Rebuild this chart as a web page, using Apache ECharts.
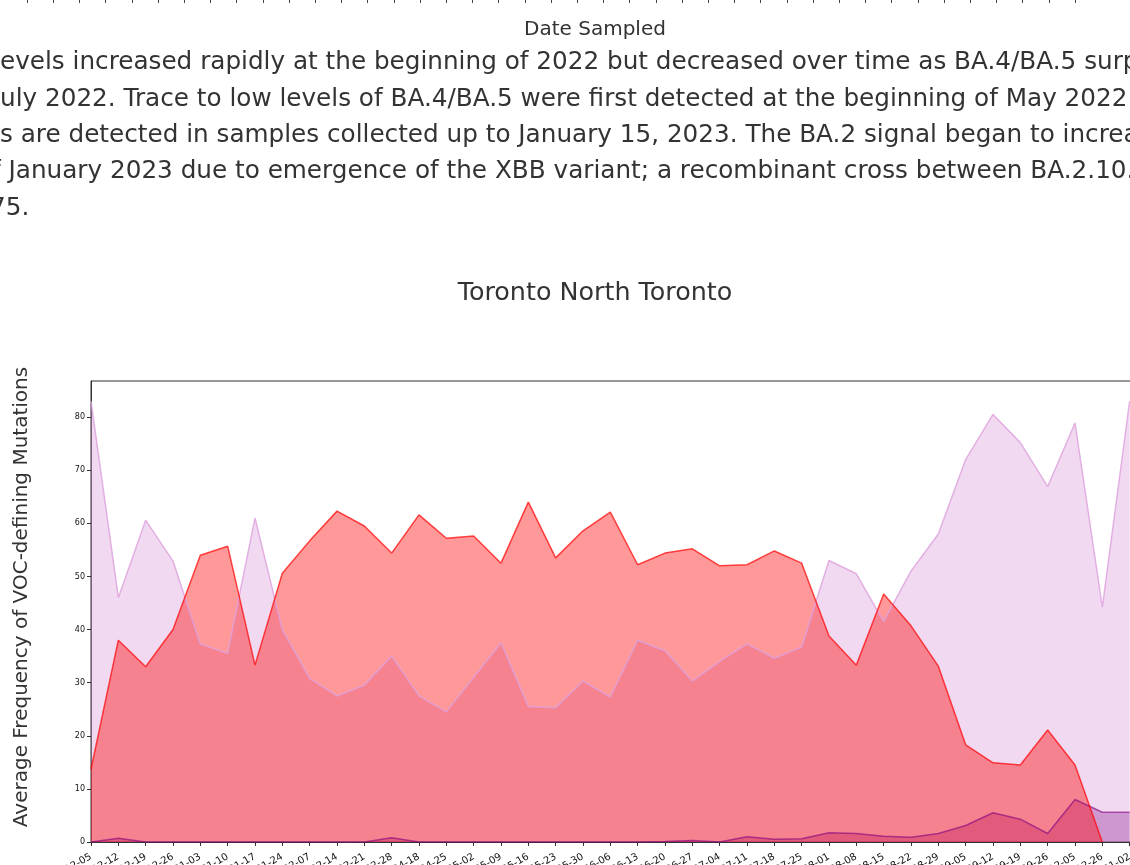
<!DOCTYPE html>
<html>
<head>
<meta charset="utf-8">
<script src="https://cdn.jsdelivr.net/npm/echarts@6/dist/echarts.min.js"></script>
<style>
html,body{margin:0;padding:0;background:#fff;}
#chart{width:1130px;height:865px;}
</style>
</head>
<body>
<div id="chart"></div>
<script>
// ---- data ----
const dates = [
  '2021-12-05','2021-12-12','2021-12-19','2021-12-26',
  '2022-01-03','2022-01-10','2022-01-17','2022-01-24',
  '2022-02-07','2022-02-14','2022-02-21','2022-02-28',
  '2022-04-18','2022-04-25','2022-05-02','2022-05-09','2022-05-16','2022-05-23','2022-05-30',
  '2022-06-06','2022-06-13','2022-06-20','2022-06-27',
  '2022-07-04','2022-07-11','2022-07-18','2022-07-25',
  '2022-08-01','2022-08-08','2022-08-15','2022-08-22','2022-08-29',
  '2022-09-05','2022-09-12','2022-09-19','2022-09-26',
  '2022-12-05','2022-12-26','2023-01-02'
];
const plumValues = [
  83, 46, 60.6, 52.9, 37.3, 35.5, 61, 40, 30.8, 27.5, 29.5, 35,
  27.5, 24.5, 31, 37.5, 25.5, 25.3, 30.3, 27.3, 38, 36, 30.3, 34,
  37.3, 34.6, 36.7, 53, 50.5, 41.5, 51, 58, 72, 80.5, 75.2, 66.9,
  78.9, 44.2, 83
];
const purpleValues = [
  0, 0.7, 0, 0, 0, 0, 0, 0, 0, 0, 0, 0.8,
  0, 0, 0, 0, 0, 0, 0, 0, 0, 0.1, 0.3, 0,
  1.0, 0.5, 0.6, 1.75, 1.6, 1.1, 0.9, 1.6, 3.1, 5.5, 4.3, 1.6,
  8.0, 5.6, 5.6
];
const redValues = [
  13.7, 38, 33, 40, 54, 55.7, 33.3, 50.6, 56.7, 62.3, 59.5, 54.4,
  61.6, 57.2, 57.6, 52.5, 64, 53.5, 58.6, 62.1, 52.2, 54.4, 55.2, 52,
  52.2, 54.8, 52.5, 38.8, 33.3, 46.7, 40.7, 33.1, 18.3, 14.9, 14.5, 21.1,
  14.5, 0, null
];
const yTicks = [0, 10, 20, 30, 40, 50, 60, 70, 80];
const paragraphLines = [
  'evels increased rapidly at the beginning of 2022 but decreased over time as BA.4/BA.5 surpassed',
  'uly 2022. Trace to low levels of BA.4/BA.5 were first detected at the beginning of May 2022',
  's are detected in samples collected up to January 15, 2023. The BA.2 signal began to increase',
  'f January 2023 due to emergence of the XBB variant; a recombinant cross between BA.2.10.',
  '75.'
];
const chartTitle = 'Toronto North Toronto';
const prevAxisName = 'Date Sampled';
const yAxisName = 'Average Frequency of VOC-defining Mutations';
const prevAxisTickCount = 41;

// ---- build ----
const toPairs = arr => arr.map((v, i) => [i, v]);
const FONT = 'DejaVu Sans';
const TXT = '#333';
const paraOffsets = [0, 0, 0, -8, -10];

const paraGraphics = paragraphLines.map((t, k) => ({
  type: 'text',
  x: paraOffsets[k],
  y: 63 + 36.3 * k,
  silent: true,
  style: { text: t, font: '24.7px "DejaVu Sans"', fill: TXT, align: 'left', verticalAlign: 'middle' }
}));

const chart = echarts.init(document.getElementById('chart'), null, { renderer: 'canvas' });
chart.setOption({
  animation: false,
  backgroundColor: '#fff',
  textStyle: { fontFamily: FONT },
  grid: [
    { left: 91, top: 381, right: -27, bottom: 23, show: true, borderColor: '#333', borderWidth: 1,
      containLabel: false, outerBoundsMode: 'none' },
    { left: 27, top: -40, width: (prevAxisTickCount - 1) * 26.2, height: 39, show: false,
      containLabel: false, outerBoundsMode: 'none' }
  ],
  xAxis: [
    {
      type: 'value', gridIndex: 0, min: 0, max: dates.length, interval: 1,
      axisLine: { show: true, lineStyle: { color: '#333', width: 1 } },
      axisTick: { show: true, length: 4, lineStyle: { color: '#333' } },
      splitLine: { show: false },
      axisLabel: {
        rotate: 30, fontSize: 10, color: '#111', margin: 14, fontFamily: FONT,
        formatter: v => (Number.isInteger(v) && dates[v]) ? dates[v] : ''
      }
    },
    {
      type: 'value', gridIndex: 1, min: 0, max: prevAxisTickCount - 1, interval: 1,
      axisLine: { show: false },
      axisTick: { show: true, length: 4, lineStyle: { color: '#444' } },
      axisLabel: { show: false },
      splitLine: { show: false }
    }
  ],
  yAxis: [
    {
      type: 'value', gridIndex: 0, min: 0, max: 86.8, interval: 10,
      axisLine: { show: true, lineStyle: { color: '#333', width: 1 } },
      axisTick: { show: true, length: 4, lineStyle: { color: '#333' }, customValues: yTicks },
      axisLabel: { fontSize: 8, color: '#111', margin: 6, fontFamily: FONT, customValues: yTicks },
      splitLine: { show: false }
    },
    { type: 'value', gridIndex: 1, min: 0, max: 1, show: false }
  ],
  graphic: [
    ...paraGraphics,
    {
      type: 'text', x: 595, y: 30, silent: true,
      style: { text: prevAxisName, font: '20px "DejaVu Sans"', fill: TXT, align: 'center', verticalAlign: 'middle' }
    },
    {
      type: 'text', x: 595, y: 293, silent: true,
      style: { text: chartTitle, font: '25.4px "DejaVu Sans"', fill: TXT, align: 'center', verticalAlign: 'middle' }
    },
    {
      type: 'text', x: 22, y: 597, rotation: Math.PI / 2, silent: true,
      style: { text: yAxisName, font: '20px "DejaVu Sans"', fill: TXT, align: 'center', verticalAlign: 'middle' }
    }
  ],
  series: [
    {
      name: 'Omicron BA.1', type: 'line', xAxisIndex: 0, yAxisIndex: 0,
      data: toPairs(plumValues), showSymbol: false, symbol: 'none',
      lineStyle: { color: '#dda0dd', width: 1.5, opacity: 0.8 },
      areaStyle: { color: '#dda0dd', opacity: 0.4, origin: 'start' }
    },
    {
      name: 'Omicron BA.4/BA.5', type: 'line', xAxisIndex: 0, yAxisIndex: 0,
      data: toPairs(purpleValues), showSymbol: false, symbol: 'none',
      lineStyle: { color: '#800080', width: 1.5, opacity: 0.6 },
      areaStyle: { color: '#800080', opacity: 0.3, origin: 'start' }
    },
    {
      name: 'Omicron BA.2', type: 'line', xAxisIndex: 0, yAxisIndex: 0,
      data: toPairs(redValues), showSymbol: false, symbol: 'none', connectNulls: false,
      lineStyle: { color: '#ff0000', width: 1.5, opacity: 0.7 },
      areaStyle: { color: '#ff0000', opacity: 0.4, origin: 'start' }
    }
  ]
});
</script>
</body>
</html>
